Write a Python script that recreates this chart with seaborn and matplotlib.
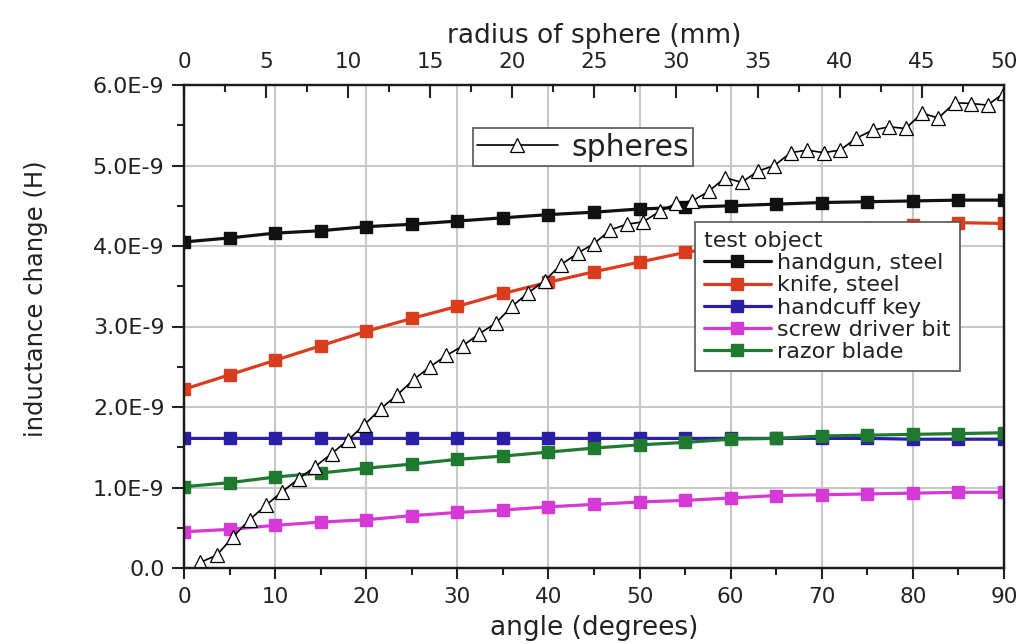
import matplotlib
matplotlib.use("Agg")
import matplotlib.pyplot as plt
from matplotlib.ticker import FixedLocator, FuncFormatter
import seaborn as sns
import numpy as np

# bottom axis: angle (degrees), values in units of 1E-9 H
angle_deg = [0, 5, 10, 15, 20, 25, 30, 35, 40, 45, 50, 55, 60, 65, 70, 75, 80, 85, 90]
handgun = [4.05, 4.10, 4.16, 4.19, 4.24, 4.27, 4.31, 4.35, 4.39, 4.42,
           4.46, 4.48, 4.50, 4.52, 4.54, 4.55, 4.56, 4.57, 4.57]
knife = [2.22, 2.40, 2.58, 2.76, 2.94, 3.10, 3.25, 3.41, 3.55, 3.68,
         3.80, 3.92, 4.01, 4.09, 4.16, 4.22, 4.26, 4.29, 4.28]
handcuff = [1.61, 1.61, 1.61, 1.61, 1.61, 1.61, 1.61, 1.61, 1.61, 1.61,
            1.61, 1.61, 1.61, 1.61, 1.61, 1.61, 1.60, 1.60, 1.60]
screwdriver = [0.45, 0.48, 0.53, 0.57, 0.60, 0.65, 0.69, 0.72, 0.76, 0.79,
               0.82, 0.84, 0.87, 0.90, 0.91, 0.92, 0.93, 0.94, 0.94]
razor = [1.01, 1.06, 1.13, 1.18, 1.24, 1.29, 1.35, 1.39, 1.44, 1.49,
         1.53, 1.56, 1.60, 1.61, 1.64, 1.65, 1.66, 1.67, 1.68]

# top axis: radius of sphere (mm)
radius_mm = [1, 2, 3, 4, 5, 6, 7, 8, 9, 10, 11, 12, 13, 14, 15, 16, 17, 18, 19, 20,
             21, 22, 23, 24, 25, 26, 27, 28, 29, 30, 31, 32, 33, 34, 35, 36, 37, 38, 39, 40,
             41, 42, 43, 44, 45, 46, 47, 48, 49, 50]
spheres = [0.07, 0.16, 0.39, 0.60, 0.78, 0.95, 1.11, 1.26, 1.42, 1.59,
           1.78, 1.98, 2.15, 2.34, 2.50, 2.64, 2.76, 2.91, 3.04, 3.25,
           3.42, 3.57, 3.77, 3.91, 4.03, 4.20, 4.27, 4.30, 4.43, 4.53,
           4.56, 4.68, 4.85, 4.79, 4.93, 5.00, 5.16, 5.19, 5.16, 5.19,
           5.34, 5.44, 5.48, 5.46, 5.65, 5.59, 5.78, 5.77, 5.75, 5.90]

series_names = ['handgun, steel', 'knife, steel', 'handcuff key', 'screw driver bit', 'razor blade']
series_vals = [handgun, knife, handcuff, screwdriver, razor]
series_colors = ['#111111', '#da3d1e', '#2b1fa6', '#d63ad6', '#1f7a30']

# tick positions (only those inside the axes)
angle_major = [0, 10, 20, 30, 40, 50, 60, 70, 80, 90]
angle_minor = [5, 15, 25, 35, 45, 55, 65, 75, 85]
radius_major = [0, 5, 10, 15, 20, 25, 30, 35, 40, 45, 50]
radius_minor = [2.5, 7.5, 12.5, 17.5, 22.5, 27.5, 32.5, 37.5, 42.5, 47.5]
ind_major = [0, 1, 2, 3, 4, 5, 6]
ind_minor = [0.5, 1.5, 2.5, 3.5, 4.5, 5.5]

sns.set_style("ticks")
plt.rcParams['font.family'] = ['DejaVu Sans']
txt_col = '#222222'

fig = plt.figure(figsize=(10.24, 6.44), dpi=100)
ax = fig.add_axes([184 / 1024, 1 - 568 / 644, 820 / 1024, 483 / 644])

handles = []
for name, vals, col in zip(series_names, series_vals, series_colors):
    sns.lineplot(x=angle_deg, y=np.array(vals) * 1e-9, ax=ax, color=col, lw=2.3,
                 marker='s', markersize=9, mec=col, mew=1, legend=False)
    line = ax.lines[-1]
    line.set_label(name)
    handles.append(line)

ax.set_xlim(0, 90)
ax.set_ylim(0, 6e-9)
ax.xaxis.set_major_locator(FixedLocator(angle_major))
ax.xaxis.set_minor_locator(FixedLocator(angle_minor))
ax.yaxis.set_major_locator(FixedLocator(np.array(ind_major) * 1e-9))
ax.yaxis.set_minor_locator(FixedLocator(np.array(ind_minor) * 1e-9))


def fmt_h(v, pos):
    if abs(v) < 1e-15:
        return '0.0'
    return f'{v * 1e9:.1f}E-9'


ax.yaxis.set_major_formatter(FuncFormatter(fmt_h))
ax.grid(True, which='major', color='#c8c8c8', lw=1.5)
ax.set_axisbelow(True)
ax.tick_params(axis='x', which='major', direction='out', length=8, width=1.5,
               labelsize=15.5, pad=6, colors=txt_col, top=False, bottom=True)
ax.tick_params(axis='x', which='minor', direction='out', length=5, width=1.5,
               top=False, bottom=True, colors=txt_col)
ax.tick_params(axis='y', which='major', direction='out', length=9, width=1.5,
               labelsize=16, pad=5, colors=txt_col, left=True, right=False)
ax.tick_params(axis='y', which='minor', direction='out', length=5, width=1.5,
               left=True, right=False, colors=txt_col)
for sp in ax.spines.values():
    sp.set_linewidth(1.6)
    sp.set_color('#1a1a1a')

ax.set_xlabel('angle (degrees)', fontsize=19, color=txt_col, va='top')
ax.xaxis.set_label_coords(0.5, -0.098)
ax.set_ylabel('inductance change (H)', fontsize=17.5, color=txt_col)
ax.yaxis.set_label_coords(-0.166, 0.558)

# top axis for spheres
ax2 = ax.twiny()
sns.lineplot(x=radius_mm, y=np.array(spheres) * 1e-9, ax=ax2, color='black', lw=1.2,
             marker='^', markersize=10, mfc='white', mec='black', mew=0.9, legend=False)
sph_line = ax2.lines[-1]
sph_line.set_label('spheres')
ax2.set_xlim(0, 50)
ax2.set_ylim(0, 6e-9)
ax2.xaxis.set_major_locator(FixedLocator(radius_major))
ax2.xaxis.set_minor_locator(FixedLocator(radius_minor))
ax2.tick_params(axis='x', which='major', direction='in', length=9, width=1.5,
                labelsize=15.5, pad=9, colors=txt_col, top=True, bottom=False)
ax2.tick_params(axis='x', which='minor', direction='in', length=5, width=1.5,
                top=True, bottom=False, colors=txt_col)
ax2.set_xlabel('radius of sphere (mm)', fontsize=19, color=txt_col)
ax2.xaxis.set_label_coords(0.5, 1.087)
ax2.grid(False)
for sp in ax2.spines.values():
    sp.set_linewidth(1.6)
    sp.set_color('#1a1a1a')

leg1 = ax2.legend(handles=[sph_line], loc='center', fontsize=21.5,
                  bbox_to_anchor=(583 / 1024, 1 - 147 / 644), bbox_transform=fig.transFigure,
                  handlelength=2.7, handletextpad=0.45, borderpad=0.15, borderaxespad=0,
                  numpoints=1, fancybox=False, framealpha=1, edgecolor='#555555')
leg1.get_frame().set_linewidth(1.2)
for t in leg1.get_texts():
    t.set_color(txt_col)
ax2.add_artist(leg1)

leg2 = ax2.legend(handles=handles, title='test object', alignment='left', loc='upper left',
                  bbox_to_anchor=(695 / 1024, 1 - 222 / 644), bbox_transform=fig.transFigure,
                  fontsize=16, title_fontsize=16, handlelength=3.0, handletextpad=0.3,
                  labelspacing=0.1, borderpad=0.4, borderaxespad=0, numpoints=1,
                  fancybox=False, framealpha=1, edgecolor='#555555')
leg2.get_frame().set_linewidth(1.2)
for t in leg2.get_texts():
    t.set_color(txt_col)
leg2.get_title().set_color(txt_col)

fig.savefig('out.png', dpi=100, facecolor='white')
